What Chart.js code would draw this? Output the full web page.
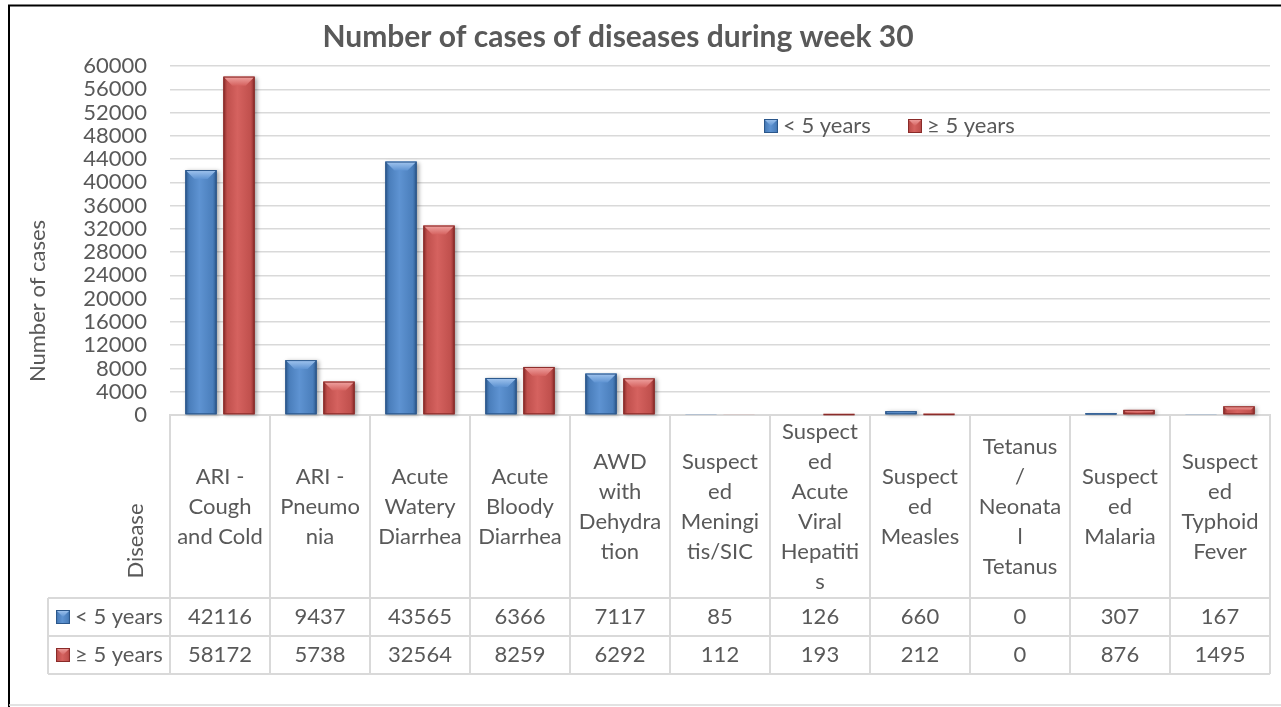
<!DOCTYPE html>
<html>
<head>
<meta charset="utf-8">
<script src="https://cdn.jsdelivr.net/npm/chart.js@4"></script>
<style>
  html, body { margin: 0; padding: 0; background: #fff; }
  #wrap { width: 1281px; height: 707px; position: relative; }
</style>
</head>
<body>
<div id="wrap"><canvas id="c" width="1281" height="707"></canvas></div>
<script>
// ---- data ----
const diseases = [
  ['ARI -', 'Cough', 'and Cold'],
  ['ARI -', 'Pneumo', 'nia'],
  ['Acute', 'Watery', 'Diarrhea'],
  ['Acute', 'Bloody', 'Diarrhea'],
  ['AWD', 'with', 'Dehydra', 'tion'],
  ['Suspect', 'ed', 'Meningi', 'tis/SIC'],
  ['Suspect', 'ed', 'Acute', 'Viral', 'Hepatiti', 's'],
  ['Suspect', 'ed', 'Measles'],
  ['Tetanus', '/', 'Neonata', 'l', 'Tetanus'],
  ['Suspect', 'ed', 'Malaria'],
  ['Suspect', 'ed', 'Typhoid', 'Fever']
];
const under5 = [42116, 9437, 43565, 6366, 7117, 85, 126, 660, 0, 307, 167];
const over5  = [58172, 5738, 32564, 8259, 6292, 112, 193, 212, 0, 876, 1495];
const seriesNames = ['< 5 years', '≥ 5 years'];
const yTicks = { min: 0, max: 60000, step: 4000 };

const FONT = 'Lato, "Open Sans", sans-serif';
const TXT = '#595959';
const LINE = '#d9d9d9';

// colours for the bevelled bars: [dark edge, body, light, top facet]
const blueTone = ['#2b578b', '#4a7ebb', '#5e93d2', '#a3c6ef'];
const redTone  = ['#8a2b29', '#c0504d', '#d5625f', '#f0a5a3'];

function bevelBox(ctx, l, t, r, b, tone, shadow) {
  const w = r - l, h = b - t;
  if (h <= 0.3) return;
  ctx.save();
  if (shadow) {
    ctx.shadowColor = 'rgba(0,0,0,0.35)';
    ctx.shadowBlur = 4; ctx.shadowOffsetX = 2; ctx.shadowOffsetY = 1;
  }
  const g = ctx.createLinearGradient(l, 0, r, 0);
  g.addColorStop(0, tone[0]);
  g.addColorStop(0.12, tone[1]);
  g.addColorStop(0.45, tone[2]);
  g.addColorStop(0.88, tone[1]);
  g.addColorStop(1, tone[0]);
  ctx.fillStyle = g;
  ctx.fillRect(l, t, w, h);
  ctx.restore();
  // top facet
  const bv = Math.min(9, h / 2, w / 2);
  ctx.save();
  const tg = ctx.createLinearGradient(0, t, 0, t + bv);
  tg.addColorStop(0, tone[3]);
  tg.addColorStop(1, tone[2]);
  ctx.fillStyle = tg;
  ctx.beginPath();
  ctx.moveTo(l, t); ctx.lineTo(r, t);
  ctx.lineTo(r - bv, t + bv); ctx.lineTo(l + bv, t + bv);
  ctx.closePath(); ctx.fill();
  ctx.strokeStyle = tone[0];
  ctx.lineWidth = 1;
  ctx.strokeRect(l + 0.5, t + 0.5, w - 1, Math.max(h - 1, 0.5));
  ctx.restore();
}

const bevelBars = {
  id: 'bevelBars',
  afterDatasetsDraw(chart) {
    const ctx = chart.ctx;
    chart.data.datasets.forEach((ds, di) => {
      const tone = di === 0 ? blueTone : redTone;
      chart.getDatasetMeta(di).data.forEach(el => {
        const p = el.getProps(['x', 'y', 'base', 'width'], true);
        bevelBox(ctx, p.x - p.width / 2, Math.min(p.y, p.base), p.x + p.width / 2, Math.max(p.y, p.base), tone, true);
      });
    });
  }
};

const decorations = {
  id: 'decorations',
  afterDraw(chart) {
    const ctx = chart.ctx;
    const x = chart.scales.x;
    const area = chart.chartArea;
    const left = area.left, right = area.right, base = area.bottom;
    const catW = (right - left) / diseases.length;
    const headBottom = 598, row1 = 636, row2 = 674, labelLeft = 48;

    ctx.save();
    // outer frame
    ctx.strokeStyle = '#000';
    ctx.lineWidth = 2;
    ctx.beginPath();
    ctx.moveTo(9, 707); ctx.lineTo(9, 5.5); ctx.lineTo(1281, 5.5);
    ctx.stroke();
    ctx.strokeStyle = LINE;
    ctx.lineWidth = 1.5;
    ctx.beginPath(); ctx.moveTo(9, 705); ctx.lineTo(1281, 705); ctx.stroke();

    // title
    ctx.fillStyle = TXT;
    ctx.font = 'bold 30px ' + FONT;
    ctx.textAlign = 'center';
    ctx.textBaseline = 'middle';
    ctx.fillText('Number of cases of diseases during week 30', 618, 37);

    // axis titles
    ctx.font = '22px ' + FONT;
    ctx.save();
    ctx.translate(38, 301); ctx.rotate(-Math.PI / 2);
    ctx.fillText('Number of cases', 0, 0);
    ctx.restore();
    ctx.save();
    ctx.translate(136, 541); ctx.rotate(-Math.PI / 2);
    ctx.fillText('Disease', 0, 0);
    ctx.restore();

    // data table grid
    ctx.strokeStyle = LINE;
    ctx.lineWidth = 2;
    ctx.beginPath();
    for (let i = 0; i <= diseases.length; i++) {
      const xx = left + i * catW;
      ctx.moveTo(xx, base); ctx.lineTo(xx, row2);
    }
    [headBottom, row1, row2].forEach(yy => { ctx.moveTo(labelLeft, yy); ctx.lineTo(right, yy); });
    ctx.moveTo(labelLeft, headBottom); ctx.lineTo(labelLeft, row2);
    ctx.stroke();

    // header labels
    ctx.fillStyle = TXT;
    ctx.font = '22px ' + FONT;
    ctx.textAlign = 'center';
    const lh = 30, mid = 507;
    diseases.forEach((lines, i) => {
      const cx = x.getPixelForValue(i);
      const y0 = mid - (lines.length - 1) * lh / 2;
      lines.forEach((s, k) => ctx.fillText(s, cx, y0 + k * lh));
    });

    // values rows
    [under5, over5].forEach((vals, r) => {
      const cy = (r === 0 ? (headBottom + row1) : (row1 + row2)) / 2;
      vals.forEach((v, i) => ctx.fillText(String(v), x.getPixelForValue(i), cy));
      bevelBox(ctx, 56, cy - 7, 70, cy + 7, r === 0 ? blueTone : redTone, false);
      ctx.textAlign = 'left';
      ctx.fillStyle = TXT;
      ctx.fillText(seriesNames[r], 75, cy);
      ctx.textAlign = 'center';
    });

    // legend inside the plot
    const ly = 126;
    [[764, 0], [908, 1]].forEach(([lx, r]) => {
      bevelBox(ctx, lx, ly - 7, lx + 14, ly + 7, r === 0 ? blueTone : redTone, false);
      ctx.fillStyle = TXT;
      ctx.textAlign = 'left';
      ctx.fillText(seriesNames[r], lx + 19, ly);
    });
    ctx.restore();
  }
};

new Chart(document.getElementById('c'), {
  type: 'bar',
  data: {
    labels: diseases.map(l => l.join(' ')),
    datasets: [
      { label: seriesNames[0], data: under5, backgroundColor: blueTone[1], borderWidth: 0,
        categoryPercentage: 0.76, barPercentage: 0.82 },
      { label: seriesNames[1], data: over5, backgroundColor: redTone[1], borderWidth: 0,
        categoryPercentage: 0.76, barPercentage: 0.82 }
    ]
  },
  options: {
    responsive: false,
    animation: false,
    layout: { padding: { left: 20, top: 66, right: 11, bottom: 292 } },
    plugins: { legend: { display: false }, title: { display: false }, tooltip: { enabled: false } },
    scales: {
      x: {
        ticks: { display: false },
        grid: { display: false },
        border: { display: true, color: LINE, width: 2 },
        afterFit(s) { s.height = 0; }
      },
      y: {
        min: yTicks.min, max: yTicks.max,
        ticks: {
          stepSize: yTicks.step, autoSkip: false, color: TXT, padding: 23,
          font: { family: FONT, size: 22 },
          callback: v => String(v)
        },
        grid: { color: LINE, lineWidth: 1.5, drawTicks: false },
        border: { display: false },
        afterFit(s) { s.width = 150; }
      }
    }
  },
  plugins: [bevelBars, decorations]
});
</script>
</body>
</html>
